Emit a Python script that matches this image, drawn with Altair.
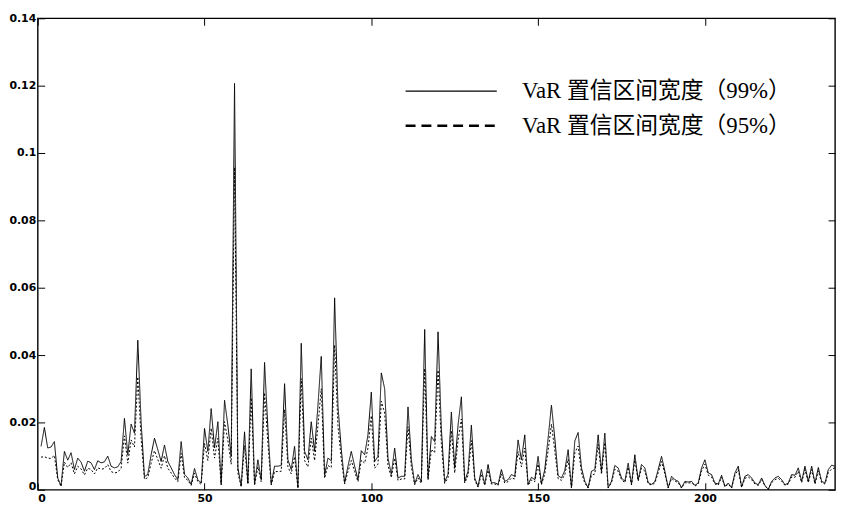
import altair as alt
import pandas as pd

# ---------------- data ----------------
s99 = "VaR 置信区间宽度（99%）"
s95 = "VaR 置信区间宽度（95%）"

x_ticks = [0, 50, 100, 150, 200]
y_ticks = [0, 0.02, 0.04, 0.06, 0.08, 0.10, 0.12, 0.14]
x_max = 239

v99 = [
    # 1-24
    0.0129, 0.0185, 0.0124, 0.0127, 0.0143, 0.0035, 0.0012, 0.0114, 0.0088, 0.0110, 0.0060, 0.0094,
    0.0082, 0.0055, 0.0085, 0.0080, 0.0060, 0.0086, 0.0080, 0.0083, 0.0100, 0.0070, 0.0065, 0.0068,
    # 25-48
    0.0084, 0.0212, 0.0104, 0.0195, 0.0168, 0.0444, 0.0200, 0.0039, 0.0046, 0.0104, 0.0153,
    0.0119, 0.0084, 0.0133, 0.0084, 0.0065, 0.0045, 0.0030, 0.0143, 0.0046, 0.0035, 0.0016, 0.0063,
    0.0030,
    # 49-71
    0.0020, 0.0182, 0.0114, 0.0241, 0.0124, 0.0202, 0.0017, 0.0266, 0.0192, 0.0099, 0.1207, 0.0065,
    0.0011, 0.0172, 0.0020, 0.0359, 0.0016, 0.0089, 0.0030, 0.0378, 0.0182, 0.0017, 0.0070,
    # 72-95
    0.0070, 0.0072, 0.0315, 0.0089, 0.0060, 0.0129, 0.0006, 0.0435, 0.0114, 0.0089, 0.0202, 0.0114,
    0.0250, 0.0396, 0.0043, 0.0094, 0.0086, 0.0570, 0.0250, 0.0120, 0.0021, 0.0070, 0.0114, 0.0070,
    # 96-118
    0.0030, 0.0116, 0.0104, 0.0163, 0.0290, 0.0084, 0.0099, 0.0347, 0.0300, 0.0094, 0.0046, 0.0124,
    0.0035, 0.0040, 0.0040, 0.0246, 0.0089, 0.0018, 0.0045, 0.0024, 0.0476, 0.0035, 0.0158,
    # 119-143
    0.0143, 0.0469, 0.0180, 0.0024, 0.0046, 0.0231, 0.0065, 0.0192, 0.0276, 0.0025, 0.0055, 0.0192,
    0.0035, 0.0010, 0.0060, 0.0016, 0.0075, 0.0021, 0.0021, 0.0016, 0.0060, 0.0025, 0.0030, 0.0045,
    0.0040,
    # 144-167
    0.0148, 0.0089, 0.0163, 0.0016, 0.0037, 0.0030, 0.0099, 0.0018, 0.0060, 0.0153, 0.0251, 0.0153,
    0.0042, 0.0035, 0.0057, 0.0119, 0.0006, 0.0145, 0.0170, 0.0065, 0.0025, 0.0006, 0.0055, 0.0060,
    # 168-190
    0.0163, 0.0055, 0.0168, 0.0006, 0.0025, 0.0072, 0.0065, 0.0035, 0.0025, 0.0079, 0.0016, 0.0104,
    0.0030, 0.0075, 0.0065, 0.0021, 0.0016, 0.0024, 0.0060, 0.0099, 0.0055, 0.0006, 0.0040,
    # 191-214
    0.0030, 0.0025, 0.0006, 0.0025, 0.0023, 0.0025, 0.0013, 0.0020, 0.0065, 0.0089, 0.0050, 0.0045,
    0.0020, 0.0017, 0.0043, 0.0010, 0.0020, 0.0006, 0.0050, 0.0070, 0.0008, 0.0040, 0.0045, 0.0035,
    # 215-239
    0.0020, 0.0015, 0.0035, 0.0013, 0.0001, 0.0025, 0.0035, 0.0040, 0.0030, 0.0015, 0.0020, 0.0045,
    0.0043, 0.0065, 0.0025, 0.0070, 0.0025, 0.0070, 0.0020, 0.0066, 0.0025, 0.0020, 0.0060, 0.0073,
    0.0070,
]

v95 = [
    # 1-24
    0.0097, 0.0098, 0.0094, 0.0093, 0.0102, 0.0030, 0.0010, 0.0082, 0.0066, 0.0080, 0.0047, 0.0070,
    0.0062, 0.0044, 0.0064, 0.0060, 0.0047, 0.0065, 0.0061, 0.0063, 0.0075, 0.0054, 0.0050, 0.0052,
    # 25-48
    0.0064, 0.0160, 0.0079, 0.0148, 0.0127, 0.0335, 0.0152, 0.0031, 0.0036, 0.0079, 0.0116,
    0.0090, 0.0064, 0.0101, 0.0064, 0.0050, 0.0035, 0.0024, 0.0108, 0.0036, 0.0028, 0.0013, 0.0049,
    0.0024,
    # 49-71
    0.0016, 0.0138, 0.0087, 0.0183, 0.0094, 0.0153, 0.0014, 0.0202, 0.0146, 0.0076, 0.0957, 0.0050,
    0.0009, 0.0131, 0.0016, 0.0273, 0.0013, 0.0068, 0.0024, 0.0288, 0.0138, 0.0014, 0.0054,
    # 72-95
    0.0054, 0.0055, 0.0238, 0.0068, 0.0047, 0.0098, 0.0005, 0.0330, 0.0087, 0.0068, 0.0153, 0.0087,
    0.0190, 0.0300, 0.0034, 0.0072, 0.0066, 0.0430, 0.0190, 0.0091, 0.0017, 0.0054, 0.0087, 0.0054,
    # 96-118
    0.0024, 0.0088, 0.0079, 0.0124, 0.0220, 0.0064, 0.0076, 0.0263, 0.0228, 0.0072, 0.0036, 0.0094,
    0.0028, 0.0032, 0.0032, 0.0187, 0.0068, 0.0015, 0.0035, 0.0019, 0.0360, 0.0028, 0.0120,
    # 119-143
    0.0110, 0.0355, 0.0137, 0.0019, 0.0036, 0.0175, 0.0050, 0.0146, 0.0210, 0.0020, 0.0043, 0.0146,
    0.0028, 0.0008, 0.0047, 0.0013, 0.0058, 0.0017, 0.0017, 0.0013, 0.0047, 0.0020, 0.0024, 0.0035,
    0.0032,
    # 144-167
    0.0113, 0.0068, 0.0124, 0.0013, 0.0029, 0.0024, 0.0076, 0.0015, 0.0047, 0.0116, 0.0195, 0.0116,
    0.0033, 0.0028, 0.0045, 0.0091, 0.0005, 0.0110, 0.0130, 0.0050, 0.0020, 0.0005, 0.0043, 0.0047,
    # 168-190
    0.0135, 0.0046, 0.0140, 0.0005, 0.0021, 0.0061, 0.0055, 0.0030, 0.0021, 0.0067, 0.0014, 0.0088,
    0.0026, 0.0064, 0.0055, 0.0018, 0.0014, 0.0020, 0.0051, 0.0084, 0.0047, 0.0005, 0.0034,
    # 191-214
    0.0026, 0.0021, 0.0005, 0.0021, 0.0020, 0.0021, 0.0011, 0.0017, 0.0055, 0.0076, 0.0043, 0.0038,
    0.0017, 0.0014, 0.0037, 0.0009, 0.0017, 0.0005, 0.0043, 0.0060, 0.0007, 0.0034, 0.0038, 0.0030,
    # 215-239
    0.0017, 0.0013, 0.0030, 0.0011, 0.0001, 0.0021, 0.0030, 0.0034, 0.0026, 0.0013, 0.0017, 0.0038,
    0.0037, 0.0055, 0.0021, 0.0060, 0.0021, 0.0060, 0.0017, 0.0056, 0.0021, 0.0017, 0.0051, 0.0062,
    0.0065,
]

n = min(len(v99), len(v95))
x = list(range(1, n + 1))

df = pd.DataFrame({
    "x": x + x,
    "value": v99[:n] + v95[:n],
    "series": [s99] * n + [s95] * n,
})

# ---------------- styles ----------------
TICK_FONT = "DejaVu Sans"
LEG_FONT = "Liberation Serif, Noto Sans CJK SC"
TL = 7  # inward tick length

xscale = alt.Scale(domain=[0, x_max], nice=False, zero=False)
yscale = alt.Scale(domain=[0, 0.14], nice=False)

common_axis = dict(domain=False, grid=False, title=None, tickSize=TL, offset=-TL,
                   tickColor="black", tickWidth=1, labelColor="black",
                   labelFont=TICK_FONT, labelFontSize=11, labelFontWeight="bold")

lines = alt.Chart(df).mark_line(color="black", strokeWidth=1).encode(
    x=alt.X("x:Q", scale=xscale,
            axis=alt.Axis(orient="bottom", values=x_ticks, labelPadding=3, **common_axis)),
    y=alt.Y("value:Q", scale=yscale,
            axis=alt.Axis(orient="left", values=y_ticks, format="~g", labelPadding=2,
                          labelBaseline={"condition": {"test": "datum.value === 0", "value": "alphabetic"},
                                         "value": "middle"},
                          **common_axis)),
    strokeDash=alt.StrokeDash("series:N",
                              scale=alt.Scale(domain=[s99, s95], range=[[1, 0], [2, 2]]),
                              legend=None),
    order="x:Q",
)

leg = alt.Legend(title=None, orient="none", legendX=406, legendY=62, symbolType="M-5,0H5",
                 symbolSize=339, labelFont=LEG_FONT, labelFontSize=23, labelColor="black",
                 labelOffset=60, labelLimit=0, rowPadding=11, padding=0, symbolStrokeColor="black")

frame = alt.Chart(df).transform_filter("false").mark_line(color="black").encode(
    x=alt.X("x:Q", scale=xscale,
            axis=alt.Axis(orient="top", values=x_ticks, labels=False, **common_axis)),
    y=alt.Y("value:Q", scale=yscale,
            axis=alt.Axis(orient="right", values=y_ticks, labels=False, **common_axis)),
    strokeDash=alt.StrokeDash("series:N",
                              scale=alt.Scale(domain=[s99, s95], range=[[1, 0], [10, 6]]),
                              legend=leg),
    strokeWidth=alt.StrokeWidth("series:N",
                                scale=alt.Scale(domain=[s99, s95], range=[1.2, 2.5]),
                                legend=leg),
)

chart = alt.layer(lines, frame).resolve_scale(
    strokeDash="independent", strokeWidth="independent"
).resolve_axis(
    x="independent", y="independent"
).properties(
    width=805, height=476,
    autosize=alt.AutoSizeParams(type="none"),
    padding={"left": 30, "top": 8, "right": 1, "bottom": 16},
    background="white",
).configure_view(stroke="black", strokeWidth=1.4)

chart.save("out.html", embed_options={"renderer": "svg", "actions": False})
